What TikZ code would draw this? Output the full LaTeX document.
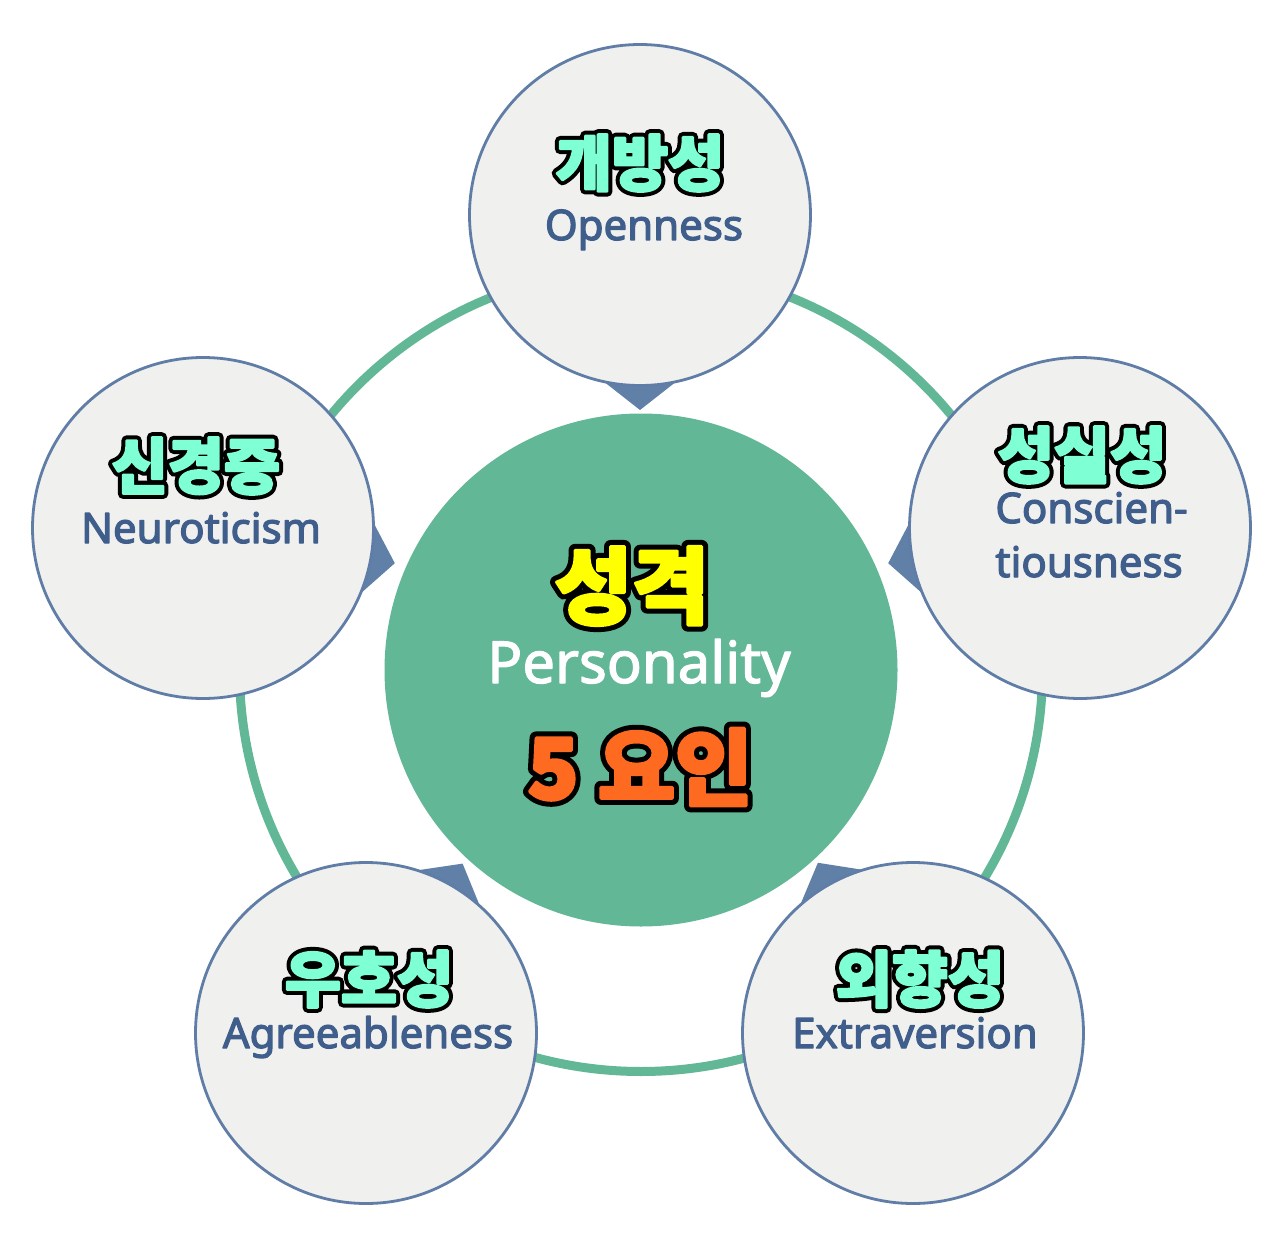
\documentclass[tikz,border=0pt]{standalone}
\usepackage{fontspec}
\setmainfont{Noto Sans}
\newfontfamily\krfont{Noto Sans CJK KR}
\newfontfamily\enfont{Noto Sans}
\usetikzlibrary{calc}
\definecolor{ringgreen}{HTML}{62B896}
\definecolor{coregreen}{HTML}{62B797}
\definecolor{bubblefill}{HTML}{F0F0EE}
\definecolor{bubbleedge}{HTML}{5F7DA6}
\definecolor{pointercol}{HTML}{6080A8}
\definecolor{entext}{HTML}{3F5E8C}
\definecolor{aquafill}{HTML}{7FFFD4}
\definecolor{hiyellow}{HTML}{FFFF00}
\definecolor{hiorange}{HTML}{FF6A21}
\def\olw{5.2}\def\fatw{1.2}
% stroked black copy below, slightly thickened coloured copy on top
\newcommand\outlined[2]{\begingroup\setbox0=\hbox{#2}%
  \hbox to \wd0{\color{black}%
    \special{pdf:literal direct 1 Tr \olw\space w 1 j 1 J}\rlap{\copy0}\special{pdf:literal direct 0 Tr}%
    \color{#1}%
    \special{pdf:literal direct 2 Tr \fatw\space w 1 j 1 J}\rlap{\copy0}\special{pdf:literal direct 0 Tr}%
    \hfil}\endgroup}
\newcommand\medium[1]{\special{pdf:literal direct 2 Tr 0.6 w 1 j}#1\special{pdf:literal direct 0 Tr}}
\begin{document}
\begin{tikzpicture}[x=0.5pt,y=-0.5pt,
  ringline/.style={draw=ringgreen,line width=4.5pt},
  core/.style={circle,fill=coregreen,minimum size=256.5pt,inner sep=0},
  bubble/.style={circle,fill=bubblefill,draw=bubbleedge,line width=1.4pt,minimum size=170.5pt,inner sep=0},
  pointer/.style={fill=pointercol},
  kolabel/.style={inner sep=0,anchor=center,font=\krfont\bfseries\fontsize{30.5pt}{31pt}\selectfont},
  enlabel/.style={inner sep=0,anchor=base,text=entext,font=\enfont\fontsize{21pt}{22pt}\selectfont},
  corekr/.style={inner sep=0,anchor=center,font=\krfont\bfseries\fontsize{42pt}{42pt}\selectfont},
  coreen/.style={inner sep=0,anchor=base,text=white,font=\enfont\fontsize{29pt}{30pt}\selectfont}]
\fill[white] (0,0) rectangle (1280,1246);
\useasboundingbox (0,0) rectangle (1280,1246);
\coordinate (ctr) at (641,670);
\draw[ringline] (ctr) circle[radius=401.5];
\node[core] (coreC) at (ctr) {};
\coordinate (openc) at (640,215);
\coordinate (neurc) at (203,528);
\coordinate (consc) at (1080,528);
\coordinate (agrec) at (366,1033);
\coordinate (extrc) at (913,1033);
\foreach \c/\t in {openc/90, neurc/10.4, consc/169.6, agrec/-60.3, extrc/-119.2}{
  \fill[pointer] ($(\c)+(\t:195)$) -- ($(\c)+(\t:166)+(\t+90:37)$) -- ($(\c)+(\t:166)+(\t-90:37)$) -- cycle;
}
\node[bubble] (open) at (openc) {};
\node[bubble] (neur) at (neurc) {};
\node[bubble] (cons) at (consc) {};
\node[bubble] (agre) at (agrec) {};
\node[bubble] (extr) at (extrc) {};
\node[kolabel] (openko) at (640,163) {\outlined{aquafill}{개방성}};
\node[enlabel] (openen) at (644,240) {\medium{Openness}};
\node[kolabel] (neurko) at (196,466) {\outlined{aquafill}{신경증}};
\node[enlabel] (neuren) at (201,543) {\medium{Neuroticism}};
\node[kolabel] (consko) at (1082,455) {\outlined{aquafill}{성실성}};
\node[enlabel,anchor=base west] (consen1) at (995,523) {\medium{Conscien-}};
\node[enlabel,anchor=base west] (consen2) at (995,577) {\medium{tiousness}};
\node[kolabel] (agreko) at (369,979) {\outlined{aquafill}{우호성}};
\node[enlabel] (agreen) at (368,1048) {\medium{Agreeableness}};
\node[kolabel] (extrko) at (920,979) {\outlined{aquafill}{외향성}};
\node[enlabel] (extren) at (915,1048) {\medium{Extraversion}};
\def\olw{6.6}\def\fatw{1.6}
\node[corekr] (coreko) at (632,586) {\outlined{hiyellow}{성격}};
\node[coreen] (coreen) at (639,683) {\medium{Personality}};
\node[corekr] (corenum) at (640,767) {\outlined{hiorange}{5 요인}};
\end{tikzpicture}
\end{document}
